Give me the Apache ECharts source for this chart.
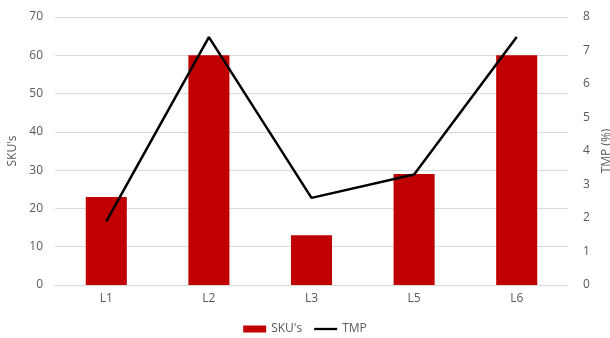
<!DOCTYPE html>
<html>
<head>
<meta charset="utf-8">
<script src="https://cdn.jsdelivr.net/npm/echarts@6/dist/echarts.min.js"></script>
<style>
  html, body { margin: 0; padding: 0; background: #fff; }
  #chart { width: 610px; height: 338px; }
</style>
</head>
<body>
<div id="chart"></div>
<script>
// Lines and their values
const categories = ['L1', 'L2', 'L3', 'L5', 'L6'];
const skuValues = [23, 60, 13, 29, 60];
const tmpValues = [1.9, 7.4, 2.6, 3.3, 7.4];
const skuTicks = { min: 0, max: 70, interval: 10 };
const tmpTicks = { min: 0, max: 8, interval: 1 };

const textColor = '#595959';
const fontFamily = '"Open Sans", "Liberation Sans", sans-serif';

const chart = echarts.init(document.getElementById('chart'));
chart.setOption({
  animation: false,
  textStyle: { fontFamily: fontFamily },
  grid: { left: 55, right: 42, top: 17, bottom: 53, containLabel: false, outerBoundsMode: 'none' },
  legend: {
    top: 318,
    left: 'center',
    itemGap: 12,
    itemWidth: 23,
    itemHeight: 7,
    textStyle: { color: textColor, fontSize: 12, fontFamily: fontFamily },
    data: [
      { name: "SKU's", icon: 'rect' },
      { name: 'TMP', icon: 'path://M0,4 L30,4 L30,7 L0,7 Z' }
    ]
  },
  xAxis: {
    type: 'category',
    data: categories,
    axisLine: { show: true, lineStyle: { color: '#d9d9d9' } },
    axisTick: { show: false },
    axisLabel: { color: textColor, fontSize: 12, margin: 8 }
  },
  yAxis: [
    {
      type: 'value',
      name: "SKU's",
      nameLocation: 'middle',
      nameGap: 36,
      nameRotate: 90,
      nameTextStyle: { color: textColor, fontSize: 12 },
      min: skuTicks.min, max: skuTicks.max, interval: skuTicks.interval,
      axisLine: { show: false },
      axisTick: { show: false },
      axisLabel: { color: textColor, fontSize: 12, margin: 12 },
      splitLine: { lineStyle: { color: '#d9d9d9' } }
    },
    {
      type: 'value',
      name: 'TMP (%)',
      nameLocation: 'middle',
      nameGap: 32,
      nameRotate: 90,
      nameTextStyle: { color: textColor, fontSize: 12 },
      min: tmpTicks.min, max: tmpTicks.max, interval: tmpTicks.interval,
      axisLine: { show: false },
      axisTick: { show: false },
      axisLabel: { color: textColor, fontSize: 12, margin: 15 },
      splitLine: { show: false }
    }
  ],
  series: [
    {
      name: "SKU's",
      type: 'bar',
      data: skuValues,
      barWidth: '40%',
      itemStyle: { color: '#C00000' }
    },
    {
      name: 'TMP',
      type: 'line',
      yAxisIndex: 1,
      data: tmpValues,
      symbol: 'none',
      lineStyle: { color: '#000', width: 2.5 },
      itemStyle: { color: '#000' }
    }
  ]
});
</script>
</body>
</html>
